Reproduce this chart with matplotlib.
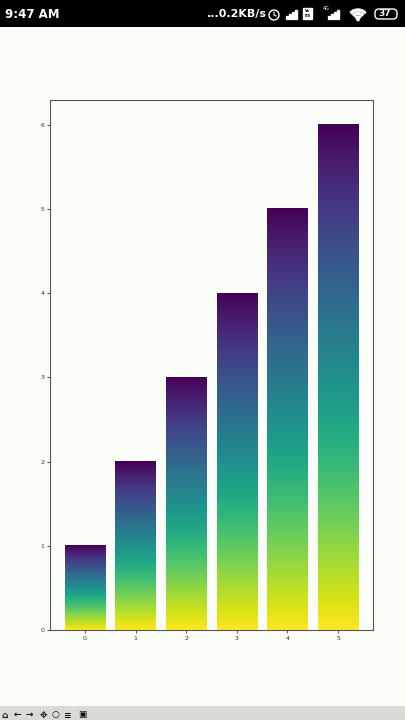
import numpy as np
import matplotlib
matplotlib.use("Agg")
import matplotlib.pyplot as plt
from matplotlib.patches import Rectangle, FancyBboxPatch, Circle, Wedge

# data
categories = [0, 1, 2, 3, 4, 5]
values = [1, 2, 3, 4, 5, 6]
yticks = [0, 1, 2, 3, 4, 5, 6]

W, H = 405, 720
bg = "#fbfdf9"

fig = plt.figure(figsize=(W / 100, H / 100), dpi=100, facecolor=bg)

# ---- phone status bar
sb = fig.add_axes([0, 1 - 27 / H, 1, 27 / H])
sb.set_facecolor("black")
sb.set_xlim(0, W)
sb.set_ylim(27, 0)
sb.axis("off")
sb.add_patch(Rectangle((0, 0), W, 27, color="black"))
sb.text(5, 14, "9:47 AM", color="white", fontsize=8.5, fontweight="bold",
        va="center", ha="left")
sb.text(207, 14, "...0.2KB/s", color="white", fontsize=8, fontweight="bold",
        va="center", ha="left")
# alarm clock
sb.add_patch(Circle((274, 15), 5, fill=False, ec="white", lw=1))
sb.plot([274, 274, 276], [12, 15, 16], color="white", lw=0.8)
# signal bars
for i, hh in enumerate([3, 5, 7, 9]):
    sb.add_patch(Rectangle((286 + i * 3, 19 - hh), 2, hh, color="white"))
# volte box
sb.add_patch(Rectangle((303, 8), 9, 11, color="white"))
sb.text(307.5, 13.5, "Vo\nLTE", color="black", fontsize=2.5, ha="center",
        va="center", fontweight="bold")
# 4g signal
sb.text(326, 8, "4G", color="white", fontsize=3.5, ha="center", va="center")
for i, hh in enumerate([3, 5, 7, 9]):
    sb.add_patch(Rectangle((328 + i * 3, 19 - hh), 2, hh, color="white"))
# wifi (y axis is flipped, so "up" is around 270 degrees)
for r in [11, 7.5, 4]:
    sb.add_patch(Wedge((358, 20), r, 225, 315, width=2, color="white"))
sb.add_patch(Circle((358, 19.5), 1.2, color="white"))
# battery
sb.add_patch(FancyBboxPatch((375, 9), 22, 10, boxstyle="round,pad=0,rounding_size=4",
                            fill=False, ec="white", lw=1))
sb.text(385, 14, "37", color="white", fontsize=6.5, fontweight="bold",
        ha="center", va="center")

# ---- toolbar at the bottom
tb = fig.add_axes([0, 0, 1, 14 / H])
tb.set_xlim(0, W)
tb.set_ylim(14, 0)
tb.axis("off")
tb.add_patch(Rectangle((0, 0), W, 14, color="#d8dbd6"))
for x, s in [(5, "⌂"), (17, "←"), (29, "→"), (43, "✥"), (55, "○"), (67, "≡"), (82, "▣")]:
    tb.text(x, 9, s, fontsize=6.5, fontweight="bold", color="#111111",
            ha="center", va="center")

# ---- main chart
ax = fig.add_axes([50 / W, 90 / H, 323 / W, 530.5 / H])
ax.set_facecolor(bg)
bars = ax.bar(categories, values, width=0.8, color="none")
xlim = ax.get_xlim()
ylim = ax.get_ylim()

grad = np.linspace(0, 1, 256).reshape(-1, 1)
for b in bars:
    x0 = b.get_x()
    ax.imshow(grad, extent=(x0, x0 + b.get_width(), 0, b.get_height()),
              cmap="viridis", aspect="auto", zorder=2)

ax.set_xlim(xlim)
ax.set_ylim(ylim)
ax.set_xticks(categories)
ax.set_yticks(yticks)
ax.tick_params(labelsize=4.5, length=2, width=0.6, pad=2, colors="#333333")
for sp in ax.spines.values():
    sp.set_color("#555555")
    sp.set_linewidth(0.8)

fig.savefig("out.png", dpi=100, facecolor=bg)
